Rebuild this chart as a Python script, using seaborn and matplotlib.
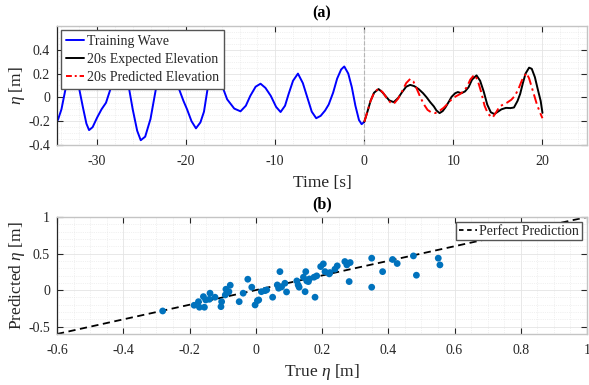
import numpy as np
import pandas as pd
import matplotlib
matplotlib.use("Agg")
import matplotlib.pyplot as plt
import seaborn as sns
from matplotlib.ticker import MultipleLocator
from matplotlib.lines import Line2D

# ---------------- data ----------------
train_t = [-34.4, -34.0, -33.6, -33.2, -32.8, -32.4, -32.0, -31.6, -31.2, -30.9,
           -30.5, -30.0, -29.5, -29.0, -28.5, -28.0, -27.5, -27.0, -26.4, -26.0,
           -25.5, -25.1, -24.6, -24.0, -23.4, -23.0, -22.5, -22.0, -21.5, -20.8,
           -20.3, -19.9, -19.4, -18.9, -18.4, -18.0, -17.6, -17.2, -16.8, -16.4,
           -15.9, -15.4, -14.6, -13.9, -13.3, -12.8, -12.2, -11.65, -11.1, -10.5,
           -9.9, -9.4, -8.9, -8.5, -8.0, -7.45, -6.9, -6.4, -5.9, -5.4,
           -4.9, -4.4, -4.0, -3.5, -3.05, -2.6, -2.25, -1.8, -1.4, -1.0,
           -0.6, -0.3, 0.0]
train_eta = [-0.19, -0.10, 0.05, 0.18, 0.24, 0.20, 0.07, -0.08, -0.22, -0.275,
             -0.25, -0.17, -0.10, -0.045, 0.07, 0.22, 0.30, 0.27, 0.07, -0.10,
             -0.28, -0.36, -0.33, -0.18, 0.07, 0.25, 0.35, 0.37, 0.30, 0.07,
             -0.03, -0.10, -0.20, -0.26, -0.21, -0.12, 0.07, 0.20, 0.24, 0.20,
             0.085, -0.016, -0.094, -0.117, -0.07, 0.013, 0.09, 0.115, 0.08, 0.013,
             -0.08, -0.123, -0.07, 0.028, 0.14, 0.20, 0.12, 0.0, -0.12, -0.175,
             -0.155, -0.11, -0.06, 0.04, 0.158, 0.235, 0.26, 0.20, 0.085, -0.07,
             -0.19, -0.225, -0.205]

expected_t = [0.0, 0.35, 0.7, 1.1, 1.6, 2.0, 2.4, 2.8, 3.3, 3.8,
              4.2, 4.7, 5.15, 5.6, 6.1, 6.6, 7.0, 7.4, 7.8, 8.1,
              8.45, 8.8, 9.1, 9.5, 9.8, 10.2, 10.5, 10.9, 11.3, 11.7,
              12.1, 12.6, 13.0, 13.4, 13.8, 14.2, 14.6, 15.0, 15.4, 15.9,
              16.4, 16.8, 17.2, 17.5, 17.8, 18.1, 18.5, 18.8, 19.15, 19.5,
              19.8, 20.0]
expected_eta = [-0.205, -0.12, -0.03, 0.04, 0.07, 0.045, 0.01, -0.025, -0.04, -0.005,
                0.04, 0.09, 0.105, 0.095, 0.07, 0.035, 0.0, -0.04, -0.075, -0.11,
                -0.132, -0.115, -0.085, -0.035, 0.005, 0.035, 0.045, 0.035, 0.05, 0.085,
                0.15, 0.185, 0.14, 0.05, -0.06, -0.125, -0.14, -0.12, -0.10, -0.088,
                -0.09, -0.085, -0.03, 0.03, 0.12, 0.20, 0.25, 0.24, 0.17, 0.06,
                -0.03, -0.13]

predicted_t = [0.0, 0.35, 0.7, 1.1, 1.6, 2.1, 2.5, 2.9, 3.3, 3.8,
               4.2, 4.7, 5.15, 5.5, 5.9, 6.3, 6.7, 7.1, 7.5, 7.95,
               8.4, 8.9, 9.4, 9.8, 10.3, 10.75, 11.1, 11.5, 11.9, 12.35,
               12.7, 13.1, 13.5, 13.9, 14.4, 14.8, 15.2, 15.6, 16.0, 16.5,
               16.9, 17.3, 17.7, 18.2, 18.5, 18.8, 19.1, 19.4, 19.8, 20.0]
predicted_eta = [-0.205, -0.12, -0.03, 0.04, 0.075, 0.04, -0.005, -0.04, -0.055, -0.01,
                 0.045, 0.12, 0.155, 0.135, 0.07, 0.0, -0.06, -0.105, -0.125, -0.132,
                 -0.115, -0.088, -0.05, -0.016, 0.01, 0.028, 0.05, 0.085, 0.15, 0.19,
                 0.15, 0.05, -0.07, -0.14, -0.17, -0.125, -0.075, -0.06, -0.045, -0.02,
                 0.013, 0.07, 0.145, 0.205, 0.16, 0.085, 0.01, -0.065, -0.14, -0.175]

true_eta = [-0.281, -0.186, -0.173, -0.170, -0.158, -0.155, -0.151, -0.138, -0.140, -0.123,
            -0.105, -0.103, -0.092, -0.090, -0.085, -0.077, -0.081, -0.050, -0.038, -0.024,
            -0.012, -0.002, 0.005, 0.009, 0.017, 0.028, 0.033, 0.051, 0.065, 0.069,
            0.073, 0.078, 0.088, 0.093, 0.124, 0.128, 0.131, 0.144, 0.151, 0.154,
            0.162, 0.159, 0.149, 0.179, 0.176, 0.184, 0.196, 0.204, 0.209, 0.222,
            0.224, 0.239, 0.246, 0.269, 0.275, 0.285, 0.282, 0.350, 0.350, 0.383,
            0.413, 0.427, 0.476, 0.485, 0.551, 0.556]
pred_eta = [-0.285, -0.207, -0.158, -0.234, -0.089, -0.234, -0.134, -0.042, -0.125, -0.097,
            -0.226, -0.158, -0.066, 0.012, -0.034, 0.067, -0.021, -0.158, -0.042, 0.149,
            0.040, -0.203, -0.144, -0.134, -0.021, -0.007, 0.003, -0.097, 0.071, 0.026,
            0.253, 0.044, 0.094, -0.025, 0.126, 0.071, 0.040, 0.177, 0.253, 0.126,
            0.153, 0.117, -0.021, -0.097, 0.177, 0.195, 0.322, 0.359, 0.253, 0.222,
            0.240, 0.286, 0.332, 0.391, 0.345, 0.377, 0.117, 0.437, 0.040, 0.253,
            0.419, 0.364, 0.468, 0.204, 0.437, 0.345]

perfect_line = [-0.6, 1.0]

top_xticks = [-30, -20, -10, 0, 10, 20]
top_xticklabels = ["-30", "-20", "-10", "0", "10", "20"]
top_yticks = [-0.4, -0.2, 0, 0.2, 0.4]
top_yticklabels = ["-0.4", "-0.2", "0", "0.2", "0.4"]
bot_xticks = [-0.6, -0.4, -0.2, 0, 0.2, 0.4, 0.6, 0.8, 1.0]
bot_xticklabels = ["-0.6", "-0.4", "-0.2", "0", "0.2", "0.4", "0.6", "0.8", "1"]
bot_yticks = [-0.5, 0, 0.5, 1.0]
bot_yticklabels = ["-0.5", "0", "0.5", "1"]

# ---------------- style ----------------
sns.set_theme(style="white")
plt.rcParams["font.family"] = ["Liberation Serif", "DejaVu Serif"]
plt.rcParams["mathtext.fontset"] = "custom"
plt.rcParams["mathtext.rm"] = "Liberation Serif"
plt.rcParams["mathtext.it"] = "Liberation Serif:italic"
plt.rcParams["axes.unicode_minus"] = False

TXT = "#262626"

fig = plt.figure(figsize=(5.89, 3.85), dpi=100)
ax1 = fig.add_axes([57 / 589, 1 - 145 / 385, 530 / 589, 119 / 385])
ax2 = fig.add_axes([57 / 589, 1 - 334 / 385, 530 / 589, 117 / 385])


def style(ax, xminor, yminor):
    for s in ["top", "right", "bottom"]:
        ax.spines[s].set_color("#c4c4c4")
        ax.spines[s].set_linewidth(1.0)
    ax.spines["left"].set_color(TXT)
    ax.spines["left"].set_linewidth(0.9)
    ax.tick_params(which="major", direction="in", length=4, width=0.8,
                   color=TXT, top=True, right=True, labelsize=10,
                   labelcolor=TXT, pad=5, bottom=True, left=True)
    ax.tick_params(axis="x", which="major", pad=7)
    ax.tick_params(which="minor", length=0)
    ax.xaxis.set_minor_locator(MultipleLocator(xminor))
    ax.yaxis.set_minor_locator(MultipleLocator(yminor))
    ax.grid(which="major", color="#e4e4e4", lw=0.6, ls="-")
    ax.grid(which="minor", color="#e4e4e4", lw=0.5, ls=":")
    ax.set_axisbelow(True)


# ---------------- panel (a) ----------------
ax1.axvline(0, color="#b5b5b5", ls="--", lw=0.8, zorder=1)
sns.lineplot(x=train_t, y=train_eta, ax=ax1, color="#0000ff", lw=1.4,
             estimator=None, sort=False)
sns.lineplot(x=expected_t, y=expected_eta, ax=ax1, color="black", lw=1.4,
             estimator=None, sort=False)
sns.lineplot(x=predicted_t, y=predicted_eta, ax=ax1, color="#ff0000", lw=1.4,
             estimator=None, sort=False)
ax1.lines[-1].set_dashes([5, 2, 1.2, 2])

ax1.set_xlim(-34.5, 25)
ax1.set_ylim(-0.4, 0.6)
ax1.set_xticks(top_xticks)
ax1.set_xticklabels(top_xticklabels)
ax1.set_yticks(top_yticks)
ax1.set_yticklabels(top_yticklabels)
style(ax1, 2, 0.05)
ax1.set_xlabel("Time [s]", fontsize=12.5, color=TXT, labelpad=5)
ax1.set_ylabel(r"$\eta$ [m]", fontsize=12.5, color=TXT, labelpad=1)
ax1.set_title("(a)", fontweight="bold", fontsize=11.5, pad=6, color="black")

h1 = [Line2D([], [], color="#0000ff", lw=1.4),
      Line2D([], [], color="black", lw=1.4),
      Line2D([], [], color="#ff0000", lw=1.4, dashes=[3, 1.5, 1, 1.5])]
leg1 = ax1.legend(h1, ["Training Wave", "20s Expected Elevation",
                       "20s Predicted Elevation"],
                  loc="upper left", fontsize=10, frameon=True, fancybox=False,
                  framealpha=1, edgecolor="#555555", borderpad=0.35,
                  labelspacing=0.35, handlelength=1.3, handletextpad=0.2,
                  borderaxespad=0.3)
leg1.get_frame().set_linewidth(1.0)

# ---------------- panel (b) ----------------
sns.lineplot(x=perfect_line, y=perfect_line, ax=ax2, color="black", lw=1.3,
             estimator=None, sort=False)
ax2.lines[-1].set_dashes([4, 2.5])
sns.scatterplot(x=true_eta, y=pred_eta, ax=ax2, color="#0072BD", s=24,
                edgecolor="none", zorder=3)

ax2.set_xlim(-0.6, 1.0)
ax2.set_ylim(-0.6, 1.0)
ax2.set_xticks(bot_xticks)
ax2.set_xticklabels(bot_xticklabels)
ax2.set_yticks(bot_yticks)
ax2.set_yticklabels(bot_yticklabels)
style(ax2, 0.05, 0.1)
ax2.set_xlabel(r"True $\eta$ [m]", fontsize=12.5, color=TXT, labelpad=4)
ax2.set_ylabel(r"Predicted $\eta$ [m]", fontsize=12.5, color=TXT, labelpad=1)
ax2.set_title("(b)", fontweight="bold", fontsize=11.5, pad=6, color="black")

h2 = [Line2D([], [], color="black", lw=1.3, dashes=[2.5, 2])]
leg2 = ax2.legend(h2, ["Perfect Prediction"], loc="upper right", fontsize=10,
                  frameon=True, fancybox=False, framealpha=1,
                  edgecolor="#555555", borderpad=0.2, handlelength=1.3,
                  handletextpad=0.2, borderaxespad=0.35)
leg2.get_frame().set_linewidth(1.0)

fig.savefig("out.png", dpi=100)
